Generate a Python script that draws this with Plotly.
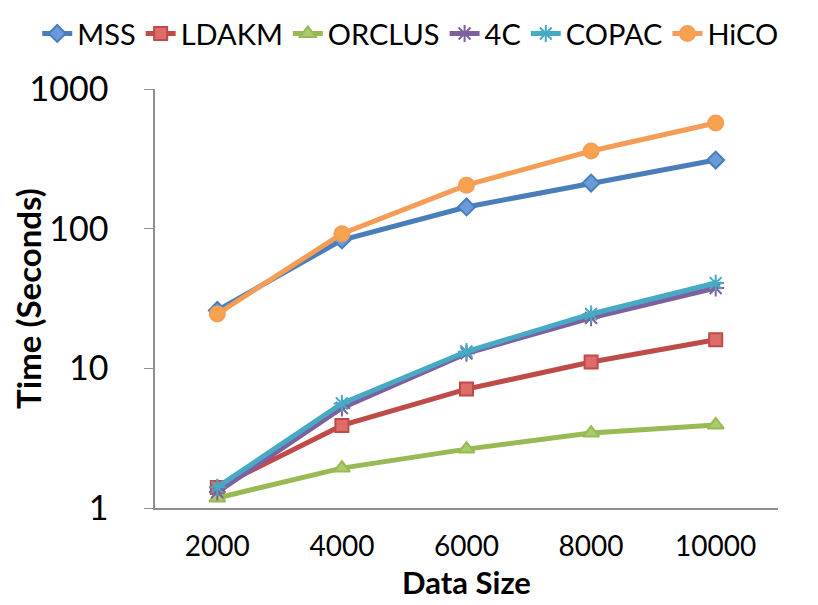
import plotly.graph_objects as go

sizes = ["2000", "4000", "6000", "8000", "10000"]
mss = [26, 83, 143, 212, 310]
ldakm = [1.4, 3.9, 7.1, 11.1, 16.0]
orclus = [1.18, 1.93, 2.64, 3.44, 3.93]
c4 = [1.3, 5.2, 12.8, 23, 37.6]
copac = [1.41, 5.6, 13.2, 24.5, 40.8]
hico = [24.5, 92, 205, 360, 571]

series = [
    ("MSS", mss, "#4A7EBB", "diamond", 13),
    ("LDAKM", ldakm, "#BE4B48", "square", 13),
    ("ORCLUS", orclus, "#98B954", "triangle-up", 14),
    ("4C", c4, "#7D60A0", "asterisk-open", 14),
    ("COPAC", copac, "#46AAC5", "asterisk-open", 14),
    ("HiCO", hico, "#F59D56", "circle", 15),
]
marker_fill = {"MSS": "#6A9BD8", "LDAKM": "#E06C6A", "ORCLUS": "#A9CB6A",
               "4C": "#7D60A0", "COPAC": "#46AAC5", "HiCO": "#F7A24F"}

fig = go.Figure()
for name, vals, col, sym, sz in series:
    fig.add_trace(go.Scatter(
        x=sizes, y=vals, name=name, mode="lines+markers",
        line=dict(color=col, width=5),
        marker=dict(symbol=sym, size=sz, color=marker_fill[name],
                    line=dict(color=col, width=2)),
    ))

font_family = "Lato, sans-serif"
fig.update_layout(
    width=818, height=605,
    margin=dict(l=147, r=48, t=81, b=105, autoexpand=False),
    paper_bgcolor="white", plot_bgcolor="white",
    font=dict(family=font_family, color="black"),
    showlegend=True,
    legend=dict(orientation="h", x=-0.189, xanchor="left", y=1.193, yanchor="top",
                font=dict(size=29, family=font_family), itemwidth=30,
                tracegroupgap=0),
    xaxis=dict(
        type="category", range=[-0.5, 4.5],
        showline=True, linecolor="#909090", linewidth=1.5,
        showgrid=False, ticks="", tickfont=dict(size=28),
        ticklabelstandoff=13,
        title=dict(text="<b>Data Size</b>", font=dict(size=31), standoff=11),
    ),
    yaxis=dict(
        type="log", range=[0, 3],
        tickvals=[1, 10, 100, 1000], ticktext=["1", "10", "100", "1000"],
        showline=True, linecolor="#909090", linewidth=1.5,
        showgrid=False, ticks="outside", ticklen=9, tickcolor="#909090",
        tickfont=dict(size=34), ticklabelstandoff=29,
        title=dict(text="<b>Time (Seconds)</b>", font=dict(size=33), standoff=8),
    ),
)
fig.write_html("out.html")
